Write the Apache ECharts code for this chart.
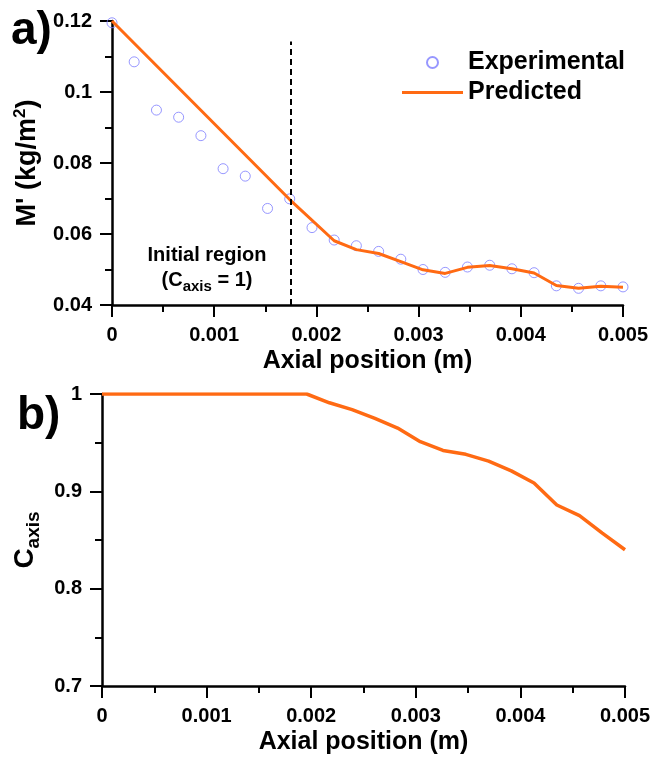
<!DOCTYPE html>
<html>
<head>
<meta charset="utf-8">
<script src="https://cdn.jsdelivr.net/npm/echarts@6/dist/echarts.min.js"></script>
<style>
  html, body { margin: 0; padding: 0; background: #fff; }
  #chart { width: 655px; height: 761px; }
</style>
</head>
<body>
<div id="chart"></div>
<script>
// axial positions (m) of the measurement points
const axialX = [0, 0.000217, 0.000435, 0.000652, 0.00087, 0.001087, 0.001304, 0.001522,
  0.001739, 0.001957, 0.002174, 0.002391, 0.002609, 0.002826, 0.003043, 0.00326,
  0.003478, 0.003696, 0.003913, 0.00413, 0.004348, 0.004565, 0.004783, 0.005];

// a) M' experimental
const expY = [0.1195, 0.1085, 0.0949, 0.0929, 0.0877, 0.0784, 0.0763, 0.0672,
  0.0699, 0.0618, 0.0583, 0.0567, 0.0551, 0.0529, 0.0500, 0.0492,
  0.0507, 0.0512, 0.0502, 0.0491, 0.0454, 0.0447, 0.0454, 0.0451];

// a) M' predicted
const predX = [0, 0.001739, 0.002174, 0.002391, 0.002609, 0.002826, 0.003043, 0.00326,
  0.003478, 0.003696, 0.003913, 0.00413, 0.004348, 0.004565, 0.004783, 0.005];
const predY = [0.12, 0.0697, 0.0581, 0.0556, 0.0545, 0.0522, 0.0499, 0.0489,
  0.0506, 0.0511, 0.0502, 0.0490, 0.0455, 0.0447, 0.0453, 0.0450];

// b) Caxis
const caxisY = [1, 1, 1, 1, 1, 1, 1, 1, 1, 1,
  0.991, 0.984, 0.975, 0.965, 0.951, 0.942, 0.938, 0.931, 0.921, 0.9085,
  0.886, 0.875, 0.857, 0.84];

const initialRegionX = 0.00175;

const FONT = 'Liberation Sans';
const ORANGE = '#ff6a13';
const BLUE = '#7d7dff';

function pairs(xs, ys) {
  return xs.map((x, i) => [x, ys[i]]);
}

const axisLine = { show: true, onZero: false, lineStyle: { color: '#000', width: 2.5 } };
const axisTick = { show: true, length: 12, lineStyle: { color: '#000', width: 2 } };
const minorTick = { show: true, splitNumber: 2, length: 7, lineStyle: { color: '#000', width: 2 } };
const tickLabel = { color: '#000', fontFamily: FONT, fontWeight: 'bold', fontSize: 20, margin: 20 };

function xAxisFor(gridIndex) {
  return {
    type: 'value', gridIndex: gridIndex, min: 0, max: 0.005, interval: 0.001,
    axisLine: axisLine, axisTick: axisTick, minorTick: minorTick,
    splitLine: { show: false }, axisLabel: tickLabel,
    name: 'Axial position (m)', nameLocation: 'middle', nameGap: 44,
    nameTextStyle: { color: '#000', fontFamily: FONT, fontWeight: 'bold', fontSize: 25 }
  };
}

const chart = echarts.init(document.getElementById('chart'), null, { renderer: 'canvas' });

chart.setOption({
  animation: false,
  backgroundColor: '#fff',
  grid: [
    { left: 112, right: 32, top: 21, height: 284 },
    { left: 102, right: 30, top: 394, height: 292 }
  ],
  legend: {
    left: 402, top: 50, orient: 'vertical', itemGap: 5, padding: 0,
    itemWidth: 61, itemHeight: 11,
    textStyle: { color: '#000', fontFamily: FONT, fontWeight: 'bold', fontSize: 25 },
    data: [
      { name: 'Experimental' },
      { name: 'Predicted', icon: 'path://M0,0 L61,0 L61,3 L0,3 Z' }
    ]
  },
  xAxis: [xAxisFor(0), xAxisFor(1)],
  yAxis: [
    {
      type: 'value', gridIndex: 0, min: 0.04, max: 0.12, interval: 0.02,
      axisLine: axisLine, axisTick: axisTick, minorTick: minorTick,
      splitLine: { show: false }, axisLabel: tickLabel,
      name: "M' (kg/m{sup|2})", nameLocation: 'middle', nameGap: 68, nameRotate: 90,
      nameTextStyle: {
        color: '#000', fontFamily: FONT, fontWeight: 'bold', fontSize: 27,
        rich: { sup: { fontSize: 17, fontFamily: FONT, fontWeight: 'bold', verticalAlign: 'top', lineHeight: 32 } }
      }
    },
    {
      type: 'value', gridIndex: 1, min: 0.7, max: 1, interval: 0.1,
      axisLine: axisLine, axisTick: axisTick, minorTick: minorTick,
      splitLine: { show: false }, axisLabel: tickLabel,
      name: 'C{sub|axis}', nameLocation: 'middle', nameGap: 58, nameRotate: 90,
      nameTextStyle: {
        color: '#000', fontFamily: FONT, fontWeight: 'bold', fontSize: 28,
        rich: { sub: { fontSize: 19, fontFamily: FONT, fontWeight: 'bold', verticalAlign: 'bottom', lineHeight: 36 } }
      }
    }
  ],
  series: [
    {
      name: 'Experimental', type: 'scatter', xAxisIndex: 0, yAxisIndex: 0,
      symbol: 'circle', symbolSize: 10,
      itemStyle: { color: 'transparent', borderColor: BLUE, borderWidth: 1 },
      data: pairs(axialX, expY), z: 3
    },
    {
      name: 'Predicted', type: 'line', xAxisIndex: 0, yAxisIndex: 0,
      symbol: 'none', lineStyle: { color: ORANGE, width: 3 }, itemStyle: { color: ORANGE },
      data: pairs(predX, predY), z: 4,
      markLine: {
        silent: true, symbol: 'none', label: { show: false },
        lineStyle: { color: '#000', width: 2, type: [6, 4] },
        data: [[{ coord: [initialRegionX, 0.04] }, { coord: [initialRegionX, 0.1142] }]]
      }
    },
    {
      name: 'Caxis', type: 'line', xAxisIndex: 1, yAxisIndex: 1,
      symbol: 'none', lineStyle: { color: ORANGE, width: 3.5 }, itemStyle: { color: ORANGE },
      data: pairs(axialX, caxisY)
    }
  ],
  graphic: [
    {
      type: 'text', left: 11, top: 8,
      style: { text: 'a)', fill: '#000', font: 'bold 46px "Liberation Sans"' }
    },
    {
      type: 'text', left: 17, top: 393,
      style: { text: 'b)', fill: '#000', font: 'bold 46px "Liberation Sans"' }
    },
    {
      type: 'text', x: 207, y: 244,
      style: {
        text: 'Initial region\n(C{sub|axis} = 1)',
        fill: '#000', align: 'center', verticalAlign: 'top',
        fontFamily: FONT, fontWeight: 'bold', fontSize: 20, lineHeight: 22,
        rich: { sub: { fontFamily: FONT, fontWeight: 'bold', fontSize: 15, lineHeight: 28, verticalAlign: 'bottom' } }
      }
    }
  ]
});
</script>
</body>
</html>
